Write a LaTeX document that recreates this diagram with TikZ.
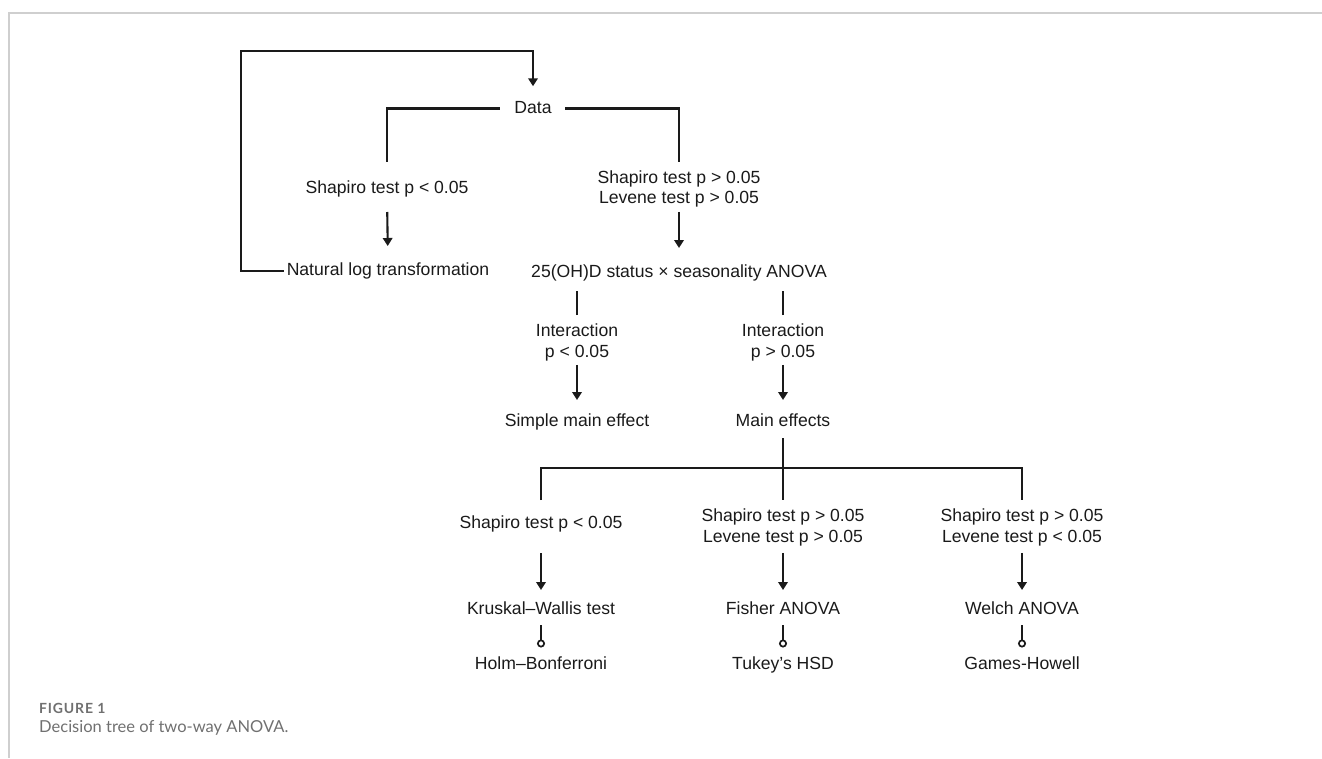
\documentclass[tikz,border=0pt]{standalone}
\usepackage{fontspec}
\setmainfont{Liberation Sans}
\newfontfamily\capfont{Lato}
\newfontfamily\capfontsp[LetterSpace=6]{Lato}
\usetikzlibrary{arrows.meta}
\definecolor{framegray}{HTML}{CFCFCF}
\definecolor{capgray}{HTML}{707070}
\definecolor{ink}{HTML}{1A1A1A}
\begin{document}
\begin{tikzpicture}[x=1pt,y=-1pt,
  lbl/.style={inner sep=0pt, outer sep=0pt, align=center, text=ink,
    font=\fontsize{17.6}{20.5}\selectfont},
  one/.style={lbl, text height=12.8pt, text depth=3.7pt},
  conn/.style={line width=2.1pt, draw=ink},
  arr/.style={conn, -{Triangle[length=8pt,width=9.5pt]}},
  circ/.style={conn, -{Circle[open,length=8pt,line width=1.7pt]}},
  capt/.style={anchor=west, inner sep=0pt, text=capgray}
]
\useasboundingbox (0,0) rectangle (1322,758);
\draw[framegray, line width=1.5pt] (1322,13) -- (9,13) -- (9,758);

% nodes
\node[one] (data)  at (533,108.5) {Data};
\node[one] (shL)   at (387,189) {Shapiro test p < 0.05};
\node[lbl] (shR)   at (679,189) {Shapiro test p > 0.05\\Levene test p > 0.05};
\node[one] (nat)   at (388,271) {Natural log transformation};
\node[one] (anova) at (679,273) {25(OH)D status × seasonality ANOVA};
\node[lbl] (intL)  at (577,342.5) {Interaction\\p < 0.05};
\node[lbl] (intR)  at (783,342.5) {Interaction\\p > 0.05};
\node[one] (sme)   at (577,422) {Simple main effect};
\node[one] (me)    at (783,422) {Main effects};
\node[one] (b1)    at (541,524) {Shapiro test p < 0.05};
\node[lbl] (b2)    at (783,527.5) {Shapiro test p > 0.05\\Levene test p > 0.05};
\node[lbl] (b3)    at (1022,527.5) {Shapiro test p > 0.05\\Levene test p < 0.05};
\node[one] (kw)    at (541,610) {Kruskal–Wallis test};
\node[one] (fa)    at (783,610) {Fisher ANOVA};
\node[one] (wa)    at (1022,610) {Welch ANOVA};
\node[one] (hb)    at (541,665) {Holm–Bonferroni};
\node[one] (tk)    at (783,665) {Tukey’s HSD};
\node[one] (gh)    at (1022,665) {Games-Howell};

\coordinate (loopc) at (241,51);
\coordinate (bus) at (783,468);

% connectors
\draw[arr, shorten <=3pt, shorten >=14pt] (nat.west) -| (loopc) -| (data.north);
\draw[conn, shorten <=14.5pt, shorten >=18.75pt] (data.west) -| (shL.north);
\draw[conn, shorten <=13.5pt, shorten >=8.5pt] (data.east) -| (shR.north);
\draw[arr, shorten <=14.75pt, shorten >=16.75pt] (shL.south) -- (nat.north);
\draw[arr, shorten <=4.5pt, shorten >=16.75pt] (shR.south) -- (anova.north);
\draw[conn, shorten <=9pt, shorten >=9.75pt] (intL.north) -- (intL.north |- anova.south);
\draw[conn, shorten <=9pt, shorten >=9.75pt] (intR.north) -- (intR.north |- anova.south);
\draw[arr, shorten <=4pt, shorten >=13.75pt] (intL.south) -- (sme.north);
\draw[arr, shorten <=4pt, shorten >=13.75pt] (intR.south) -- (me.north);
\draw[conn, shorten <=7.75pt] (me.south) -- (bus);
\draw[conn, shorten <=15.75pt, shorten >=9pt] (b1.north) |- (bus) -| (b3.north);
\draw[conn, shorten >=9pt] (bus) -- (b2.north);
\draw[arr, shorten <=20.75pt, shorten >=11.75pt] (b1.south) -- (kw.north);
\draw[arr, shorten <=7pt, shorten >=11.75pt] (b2.south) -- (fa.north);
\draw[arr, shorten <=7pt, shorten >=11.75pt] (b3.south) -- (wa.north);
\draw[circ, shorten <=6.75pt, shorten >=9.25pt] (kw.south) -- (hb.north);
\draw[circ, shorten <=6.75pt, shorten >=9.25pt] (fa.south) -- (tk.north);
\draw[circ, shorten <=6.75pt, shorten >=9.25pt] (wa.south) -- (gh.north);

% caption
\node[capt, font=\capfontsp\bfseries\fontsize{14}{16}\selectfont] (fig) at (39,708) {FIGURE 1};
\node[capt, font=\capfont\fontsize{16.5}{19}\selectfont] (cap) at (39,728) {Decision tree of two-way ANOVA.};
\end{tikzpicture}
\end{document}
